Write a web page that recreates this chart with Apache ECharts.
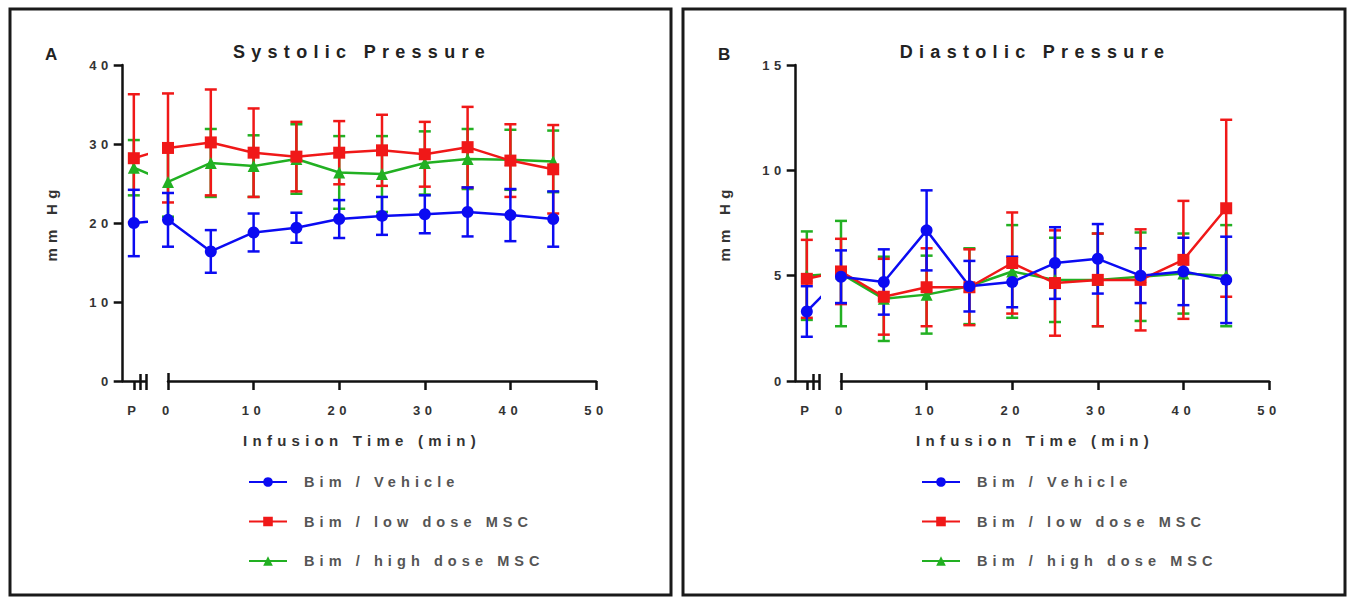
<!DOCTYPE html>
<html>
<head>
<meta charset="utf-8">
<title>Systolic / Diastolic Pressure</title>
<script src="https://cdn.jsdelivr.net/npm/echarts@6.0.0/dist/echarts.min.js"></script>
<style>
  html, body { margin: 0; padding: 0; background: #fff; }
  #chart { width: 1352px; height: 597px; }
  /* the original figure uses very wide letter spacing on every label */
  #chart text { letter-spacing: 0.35em; }
</style>
</head>
<body>
<div id="chart"></div>
<script>
// time points (min); -4 stands for "P" (pre-infusion), left of the axis break
const timePoints = [-4, 0, 5, 10, 15, 20, 25, 30, 35, 40, 45];
const groupNames = ['Bim / Vehicle', 'Bim / low dose MSC', 'Bim / high dose MSC'];

// A - systolic pressure (mm Hg), mean and error
const sysVehicleMean = [20.0, 20.4, 16.4, 18.8, 19.4, 20.5, 20.9, 21.1, 21.4, 21.0, 20.5];
const sysVehicleErr = [4.2, 3.4, 2.7, 2.4, 1.9, 2.4, 2.4, 2.4, 3.1, 3.3, 3.5];
const sysLowMean = [28.2, 29.5, 30.2, 28.9, 28.4, 28.9, 29.2, 28.7, 29.6, 27.9, 26.8];
const sysLowErr = [8.1, 6.9, 6.7, 5.6, 4.4, 4.0, 4.5, 4.1, 5.1, 4.6, 5.6];
const sysHighMean = [27.0, 25.2, 27.6, 27.2, 28.1, 26.4, 26.2, 27.6, 28.1, 28.0, 27.8];
const sysHighErr = [3.5, 4.4, 4.3, 3.9, 4.4, 4.6, 4.8, 4.0, 3.8, 3.8, 3.9];

// B - diastolic pressure (mm Hg), mean and error
const diaVehicleMean = [3.3, 4.95, 4.7, 7.15, 4.5, 4.7, 5.6, 5.8, 5.0, 5.2, 4.8];
const diaVehicleErr = [1.2, 1.25, 1.55, 1.9, 1.2, 1.2, 1.7, 1.65, 1.3, 1.6, 2.05];
const diaLowMean = [4.85, 5.2, 4.0, 4.45, 4.45, 5.6, 4.65, 4.8, 4.8, 5.75, 8.2];
const diaLowErr = [1.85, 1.55, 1.8, 1.85, 1.8, 2.4, 2.5, 2.2, 2.4, 2.8, 4.2];
const diaHighMean = [5.0, 5.1, 3.9, 4.1, 4.5, 5.2, 4.8, 4.8, 4.95, 5.1, 5.0];
const diaHighErr = [2.1, 2.5, 2.0, 1.85, 1.8, 2.2, 2.0, 2.2, 2.1, 1.9, 2.4];

const sysTicks = [0, 40, 10]; // min, max, step
const diaTicks = [0, 15, 5];

const colors = ['#0b0bf2', '#f01818', '#22b022'];
const symbols = ['circle', 'rect', 'triangle'];
const FONT = 'Liberation Sans, Arial, sans-serif';

const panels = [
  { letter: 'A', title: 'Systolic Pressure', dx: 0, ticks: sysTicks,
    means: [sysVehicleMean, sysLowMean, sysHighMean], errs: [sysVehicleErr, sysLowErr, sysHighErr] },
  { letter: 'B', title: 'Diastolic Pressure', dx: 673, ticks: diaTicks,
    means: [diaVehicleMean, diaLowMean, diaHighMean], errs: [diaVehicleErr, diaLowErr, diaHighErr] }
];

const axisColor = '#111';
const labelStyle = { fontFamily: FONT, fontSize: 13, fontWeight: 'bold', color: '#333' };

function renderErrorBar(params, api) {
  const x = api.value(0);
  const lo = api.coord([x, api.value(1)]);
  const hi = api.coord([x, api.value(2)]);
  const half = 6;
  const style = { stroke: api.visual('color'), lineWidth: 2.5 };
  return {
    type: 'group',
    children: [
      { type: 'line', shape: { x1: lo[0], y1: lo[1], x2: hi[0], y2: hi[1] }, style: style },
      { type: 'line', shape: { x1: lo[0] - half, y1: lo[1], x2: lo[0] + half, y2: lo[1] }, style: style },
      { type: 'line', shape: { x1: hi[0] - half, y1: hi[1], x2: hi[0] + half, y2: hi[1] }, style: style }
    ]
  };
}

const grid = [], xAxis = [], yAxis = [], series = [], legend = [], graphic = [];

panels.forEach(function (p, pi) {
  const g0 = pi * 2, x0 = pi * 4, y0 = pi * 2;
  // short piece for "P", then the broken-off main axis
  grid.push({ left: 122.7 + p.dx, top: 65, width: 23.1, height: 316 });
  grid.push({ left: 168 + p.dx, top: 65, width: 428, height: 316 });

  xAxis.push({
    gridIndex: g0, type: 'value', min: -5.3, max: -2.6,
    axisLine: { lineStyle: { color: axisColor, width: 2.5 } },
    axisTick: { length: 9, customValues: [-4, -3.2, -2.6], lineStyle: { color: axisColor, width: 2.5 } },
    axisLabel: Object.assign({ customValues: [-4], formatter: function () { return 'P'; }, margin: 23 }, labelStyle),
    splitLine: { show: false }
  });
  xAxis.push({
    gridIndex: g0 + 1, type: 'value', min: 0, max: 50, interval: 10,
    axisLine: { lineStyle: { color: axisColor, width: 2.5 } },
    axisTick: { length: 9, lineStyle: { color: axisColor, width: 2.5 } },
    axisLabel: Object.assign({ margin: 23 }, labelStyle),
    splitLine: { show: false }
  });
  // upper halves of the break marks
  xAxis.push({
    gridIndex: g0, type: 'value', min: -5.3, max: -2.6, position: 'bottom',
    axisLine: { show: false }, axisLabel: { show: false }, splitLine: { show: false },
    axisTick: { inside: true, length: 7, customValues: [-3.2, -2.6], lineStyle: { color: axisColor, width: 2.5 } }
  });
  xAxis.push({
    gridIndex: g0 + 1, type: 'value', min: 0, max: 50, position: 'bottom',
    axisLine: { show: false }, axisLabel: { show: false }, splitLine: { show: false },
    axisTick: { inside: true, length: 8, customValues: [0], lineStyle: { color: axisColor, width: 2.5 } }
  });

  yAxis.push({
    gridIndex: g0, type: 'value', min: p.ticks[0], max: p.ticks[1], interval: p.ticks[2],
    axisLine: { show: true, lineStyle: { color: axisColor, width: 2.5 } },
    axisTick: { show: true, length: 9, lineStyle: { color: axisColor, width: 2.5 } },
    axisLabel: Object.assign({ margin: 10 }, labelStyle),
    splitLine: { show: false },
    name: 'mm Hg', nameLocation: 'middle', nameGap: 64, nameRotate: 90,
    nameTextStyle: { fontFamily: FONT, fontSize: 15, fontWeight: 'bold', color: '#333' }
  });
  yAxis.push({
    gridIndex: g0 + 1, type: 'value', min: p.ticks[0], max: p.ticks[1], interval: p.ticks[2], show: false
  });

  // draw high dose first, vehicle last (vehicle sits on top)
  [2, 1, 0].forEach(function (gi) {
    const pts = timePoints.map(function (t, i) { return [t, p.means[gi][i]]; });
    const bars = timePoints.map(function (t, i) {
      return [t, p.means[gi][i] - p.errs[gi][i], p.means[gi][i] + p.errs[gi][i]];
    });
    [0, 1].forEach(function (side) {
      const common = {
        xAxisIndex: x0 + side, yAxisIndex: y0 + side,
        itemStyle: { color: colors[gi] }
      };
      series.push(Object.assign({
        type: 'custom', name: 'err-' + gi, silent: true, clip: false,
        renderItem: renderErrorBar, encode: { x: 0, y: [1, 2] },
        data: side === 0 ? bars.slice(0, 1) : bars.slice(1)
      }, common));
      series.push(Object.assign({
        type: 'line', name: groupNames[gi], clip: true,
        symbol: symbols[gi], symbolSize: 12,
        lineStyle: { color: colors[gi], width: 2.5 },
        // left piece gets P and 0 so the line runs into the break and is cut there
        data: side === 0 ? pts.slice(0, 2) : pts.slice(1),
        animation: false
      }, common));
    });
  });

  legend.push({
    data: groupNames, orient: 'vertical', left: 243 + p.dx, top: 468,
    itemWidth: 38, itemHeight: 12, itemGap: 21.5, selectedMode: false,
    textStyle: { fontFamily: FONT, fontSize: 14.5, fontWeight: 'bold', color: '#555', padding: [0, 0, 0, 12], lineHeight: 18 }
  });

  graphic.push(
    { type: 'text', x: 45 + p.dx, y: 54, style: { text: p.letter, font: 'bold 17px ' + FONT, fill: '#222', textAlign: 'left', textVerticalAlign: 'middle' } },
    { type: 'text', x: 362 + p.dx, y: 52, style: { text: p.title, font: 'bold 18px ' + FONT, fill: '#222', textAlign: 'center', textVerticalAlign: 'middle' } },
    { type: 'text', x: 362 + p.dx, y: 440, style: { text: 'Infusion Time (min)', font: 'bold 15px ' + FONT, fill: '#333', textAlign: 'center', textVerticalAlign: 'middle' } },
    { type: 'rect', shape: { x: 10 + p.dx, y: 9, width: 661 - (pi ? -1 : 0), height: 586 }, style: { fill: 'none', stroke: '#1a1a1a', lineWidth: 3 }, z: 100 }
  );
});

const chart = echarts.init(document.getElementById('chart'), null, { renderer: 'svg' });
chart.setOption({
  backgroundColor: '#fff',
  animation: false,
  grid: grid,
  xAxis: xAxis,
  yAxis: yAxis,
  legend: legend,
  graphic: graphic,
  series: series
});
</script>
</body>
</html>
